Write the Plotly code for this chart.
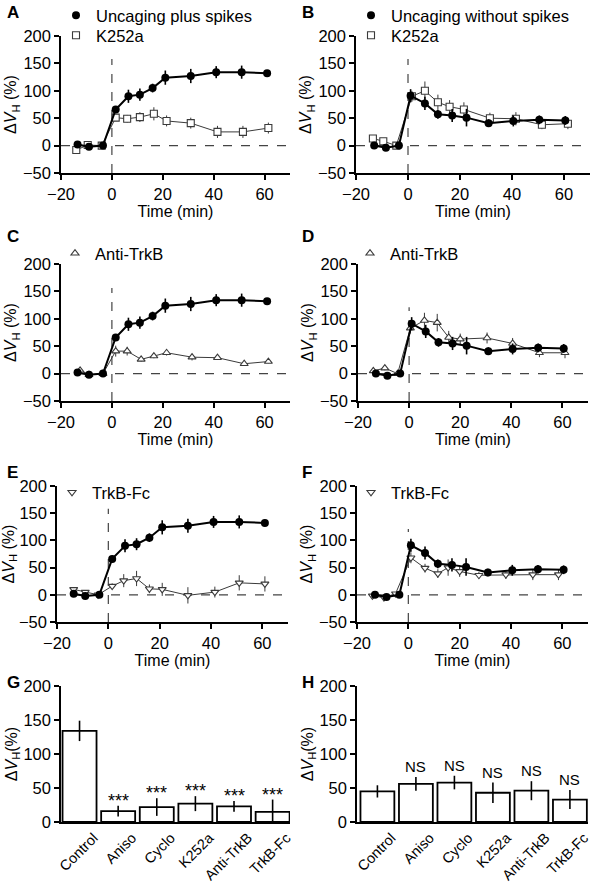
import plotly.graph_objects as go

# ---------------- data ----------------
# "Uncaging plus spikes" control (panels A, C, E)
T_SPK = [-13.5, -9, -3.5, 1.5, 6.5, 11, 16, 21, 31, 41, 51, 61]
V_SPK = [2, -2, 0, 66, 90, 93, 105, 124, 127, 134, 134, 132]
E_SPK = [3, 3, 2, 6, 12, 11, 8, 13, 13, 11, 12, 6]

# "Uncaging without spikes" control (panels B, D, F)
T_NOS = [-13, -8.5, -3.5, 1, 6.5, 11.5, 17, 22.5, 31, 40.5, 50.5, 60.5]
V_NOS = [0, -4, 0, 91, 77, 57, 55, 51, 41, 45, 47, 46]
E_NOS = [3, 2, 2, 12, 12, 8, 12, 16, 7, 10, 8, 8]

# Panel A: K252a
T_A = [-14, -9.5, -4, 1.5, 6, 11, 16.5, 21.5, 31, 41.5, 51.5, 61.5]
V_A = [-8, 1, 0, 51, 49, 52, 58, 45, 41, 25, 25, 32]
E_A = [3, 2, 2, 6, 7, 9, 12, 10, 10, 11, 11, 10]

# Panel B: K252a
T_B = [-13.5, -9.5, -4.5, 1.5, 6.5, 11.5, 16, 21.5, 31.5, 41.5, 51.5, 61.5]
V_B = [13, 8, 0, 90, 100, 79, 71, 66, 50, 49, 38, 40]
E_B = [3, 3, 2, 10, 17, 14, 12, 13, 10, 12, 8, 10]

# Panel C: Anti-TrkB
T_C = [-12.5, -9, -3.5, 1.5, 6, 11.5, 16.5, 21.5, 31.5, 41.5, 52, 61.5]
V_C = [6, -2, 0, 41, 41, 26, 32, 38, 30, 29, 18, 22]
E_C = [3, 2, 2, 10, 8, 4, 4, 5, 6, 4, 4, 3]

# Panel D: Anti-TrkB
T_D = [-14, -9.5, -4.5, 0.5, 6, 11, 15.5, 20, 30.5, 40.5, 51, 61]
V_D = [5, 10, 0, 83, 97, 93, 66, 63, 65, 55, 38, 38]
E_D = [6, 4, 2, 10, 14, 16, 12, 10, 10, 10, 8, 10]

# Panel E: TrkB-Fc
T_E = [-13.5, -9, -4, 1.5, 6, 11, 16, 21, 31, 41.5, 51, 61]
V_E = [10, 5, 0, 16, 26, 30, 11, 10, -1, 5, 22, 20]
E_E = [3, 3, 2, 5, 12, 14, 8, 12, 15, 10, 14, 14]

# Panel F: TrkB-Fc
T_F = [-14, -9.5, -5, 1, 6.5, 11.5, 15.5, 20, 27.5, 38, 48.5, 58.5]
V_F = [-2, -5, 2, 68, 49, 39, 50, 43, 36, 37, 37, 37]
E_F = [4, 3, 3, 10, 8, 8, 15, 10, 6, 8, 10, 10]

# Bar panels G, H
CATS = ["Control", "Aniso", "Cyclo", "K252a", "Anti-TrkB", "TrkB-Fc"]
G_V = [134, 16, 22, 27, 23, 15]
G_E = [15, 8, 13, 11, 8, 18]
G_SIG = ["", "***", "***", "***", "***", "***"]
H_V = [45, 56, 58, 43, 46, 33]
H_E = [9, 10, 10, 15, 14, 14]
H_SIG = ["", "NS", "NS", "NS", "NS", "NS"]

Y_TICKS = [-50, 0, 50, 100, 150, 200]
X_TICKS = [-20, 0, 20, 40, 60]
BAR_TICKS = [0, 50, 100, 150, 200]

# ---------------- layout helpers ----------------
W, H = 595, 882
FONT = "Liberation Sans, Arial, sans-serif"
TICK_FS = 16.5
TITLE_FS = 16
LEG_FS = 16.5


def px_x(a, b):
    return [a / W, b / W]


def px_y(top, bottom):
    return [1 - bottom / H, 1 - top / H]


fig = go.Figure()

DARK = "#000000"
GREY = "#3a3a3a"

line_panels = [
    dict(i=1, xd=(61, 290), yd=(36, 173), ctrl=(T_SPK, V_SPK, E_SPK), ctrl_name="Uncaging plus spikes",
         tr=(T_A, V_A, E_A), sym="square", tr_name="K252a", show_ctrl=True, vtop=158),
    dict(i=2, xd=(356, 590), yd=(36, 173), ctrl=(T_NOS, V_NOS, E_NOS), ctrl_name="Uncaging without spikes",
         tr=(T_B, V_B, E_B), sym="square", tr_name="K252a", show_ctrl=True, vtop=158),
    dict(i=3, xd=(61, 290), yd=(264, 401), ctrl=(T_SPK, V_SPK, E_SPK), ctrl_name="Uncaging plus spikes",
         tr=(T_C, V_C, E_C), sym="triangle-up", tr_name="Anti-TrkB", show_ctrl=False, vtop=156),
    dict(i=4, xd=(358, 588), yd=(264, 401), ctrl=(T_NOS, V_NOS, E_NOS), ctrl_name="Uncaging without spikes",
         tr=(T_D, V_D, E_D), sym="triangle-up", tr_name="Anti-TrkB", show_ctrl=False, vtop=121),
    dict(i=5, xd=(57, 288), yd=(486, 622), ctrl=(T_SPK, V_SPK, E_SPK), ctrl_name="Uncaging plus spikes",
         tr=(T_E, V_E, E_E), sym="triangle-down", tr_name="TrkB-Fc", show_ctrl=False, vtop=158),
    dict(i=6, xd=(357, 588), yd=(486, 622), ctrl=(T_NOS, V_NOS, E_NOS), ctrl_name="Uncaging without spikes",
         tr=(T_F, V_F, E_F), sym="triangle-down", tr_name="TrkB-Fc", show_ctrl=False, vtop=121),
]

# legend box positions (left, top) in px: one legend per entry
LEG_CTRL = {1: (56, -2), 2: (351, -2)}
LEG_TR = {1: (56, 18), 2: (351, 18), 3: (55, 236), 4: (350, 236), 5: (52, 475), 6: (351, 475)}

axis_common = dict(showline=True, linecolor="black", linewidth=1.5, ticks="outside", ticklen=5,
                   tickwidth=1.5, tickcolor="black", showgrid=False, zeroline=False,
                   tickfont=dict(family=FONT, size=TICK_FS, color="black"))

legend_count = [0]


def new_legend(left, top):
    legend_count[0] += 1
    n = legend_count[0]
    name = "legend" if n == 1 else f"legend{n}"
    fig.layout[name] = dict(x=left / W, y=1 - top / H, xanchor="left", yanchor="top",
                            bgcolor="rgba(0,0,0,0)", font=dict(family=FONT, size=LEG_FS, color="black"),
                            itemwidth=30, borderwidth=0)
    return name


shapes = []
for p in line_panels:
    i = p["i"]
    xa = "x" if i == 1 else f"x{i}"
    ya = "y" if i == 1 else f"y{i}"
    tx, tv, te = p["tr"]
    cx, cv, ce = p["ctrl"]
    tr_marker = dict(symbol=p["sym"], size=7, color="white", line=dict(width=1.1, color=GREY))
    # treatment
    fig.add_trace(go.Scatter(x=tx, y=tv, mode="lines+markers", xaxis=xa, yaxis=ya, showlegend=False,
                             line=dict(color=GREY, width=1), marker=tr_marker,
                             error_y=dict(type="data", array=te, width=0, thickness=1, color=GREY)))
    # control
    fig.add_trace(go.Scatter(x=cx, y=cv, mode="lines+markers", xaxis=xa, yaxis=ya, showlegend=False,
                             line=dict(color=DARK, width=2),
                             marker=dict(symbol="circle", size=8, color=DARK),
                             error_y=dict(type="data", array=ce, width=0, thickness=1.6, color=DARK)))
    # legend entries
    if p["show_ctrl"]:
        lg = new_legend(*LEG_CTRL[i])
        fig.add_trace(go.Scatter(x=[None], y=[None], mode="markers", xaxis=xa, yaxis=ya, name=p["ctrl_name"],
                                 legend=lg, marker=dict(symbol="circle", size=8, color=DARK)))
    lg = new_legend(*LEG_TR[i])
    fig.add_trace(go.Scatter(x=[None], y=[None], mode="markers", xaxis=xa, yaxis=ya, name=p["tr_name"],
                             legend=lg, marker=tr_marker))
    # axes
    fig.layout["xaxis" if i == 1 else f"xaxis{i}"] = dict(
        axis_common, domain=px_x(*p["xd"]), anchor=ya, range=[-20, 70], tickvals=X_TICKS,
        title=dict(text="Time (min)", font=dict(family=FONT, size=TITLE_FS, color="black"), standoff=0))
    fig.layout["yaxis" if i == 1 else f"yaxis{i}"] = dict(
        axis_common, domain=px_y(*p["yd"]), anchor=xa, range=[-50, 200], tickvals=Y_TICKS,
        title=dict(text="Δ<i>V</i><sub>H</sub> (%)", font=dict(family=FONT, size=TITLE_FS, color="black"),
                   standoff=2))
    shapes.append(dict(type="line", xref=xa, yref=ya, x0=-20, x1=70, y0=0, y1=0, layer="below",
                       line=dict(color="#444", width=1.2, dash="dash")))
    shapes.append(dict(type="line", xref=xa, yref=ya, x0=0, x1=0, y0=-50, y1=p["vtop"], layer="below",
                       line=dict(color="#444", width=1.2, dash="dash")))

bar_panels = [
    dict(i=7, xd=(61, 290), yd=(686, 822), v=G_V, e=G_E, sig=G_SIG, rng=[-0.48, 5.45], shift=-7, fs=18),
    dict(i=8, xd=(357, 588), yd=(686, 822), v=H_V, e=H_E, sig=H_SIG, rng=[-0.53, 5.47], shift=0, fs=15),
]
annotations = []
for p in bar_panels:
    i = p["i"]
    xa, ya = f"x{i}", f"y{i}"
    fig.add_trace(go.Bar(x=CATS, y=p["v"], xaxis=xa, yaxis=ya, showlegend=False,
                         marker=dict(color="white", line=dict(color="black", width=1.8)),
                         error_y=dict(type="data", array=p["e"], width=0, thickness=1.6, color="black")))
    fig.layout[f"xaxis{i}"] = dict(axis_common, domain=px_x(*p["xd"]), anchor=ya, range=p["rng"],
                                   ticks="", tickangle=-45, type="category", ticklabelshift=14,
                                   tickfont=dict(family=FONT, size=14.5, color="black"))
    fig.layout[f"yaxis{i}"] = dict(axis_common, domain=px_y(*p["yd"]), anchor=xa, range=[0, 200],
                                   tickvals=BAR_TICKS,
                                   title=dict(text="Δ<i>V</i><sub>H</sub>(%)",
                                              font=dict(family=FONT, size=TITLE_FS, color="black"), standoff=2))
    for c, v, e, s in zip(CATS, p["v"], p["e"], p["sig"]):
        if s:
            annotations.append(dict(x=c, y=v + e, xref=xa, yref=ya, text=s, showarrow=False,
                                    yanchor="bottom", yshift=p["shift"],
                                    font=dict(family=FONT, size=p["fs"], color="black")))

letters = [("A", 5, 13), ("B", 300, 13), ("C", 5, 236), ("D", 300, 236),
           ("E", 5, 472), ("F", 300, 472), ("G", 5, 682), ("H", 300, 682)]
for t, x, y in letters:
    annotations.append(dict(x=x / W, y=1 - y / H, xref="paper", yref="paper", text=f"<b>{t}</b>",
                            showarrow=False, xanchor="left", yanchor="middle",
                            font=dict(family=FONT, size=17, color="black")))

fig.update_layout(width=W, height=H, margin=dict(l=0, r=0, t=0, b=0, autoexpand=False),
                  paper_bgcolor="white", plot_bgcolor="white", shapes=shapes, annotations=annotations,
                  bargap=0.12, font=dict(family=FONT, size=14, color="black"))

fig.write_html("out.html", config={"displayModeBar": False},
               post_script="document.body.style.margin='0px';")
